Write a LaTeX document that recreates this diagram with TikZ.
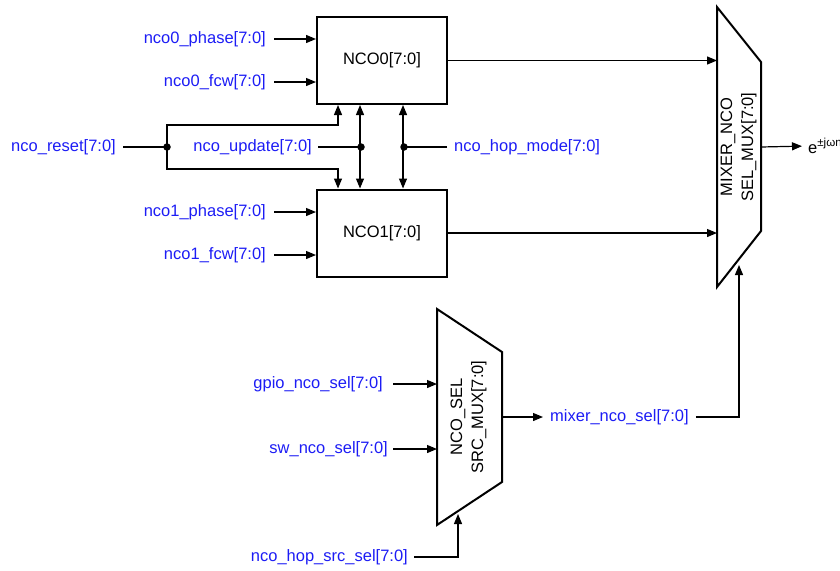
\documentclass[tikz,border=0pt]{standalone}
\usepackage{fontspec}
\setmainfont{Liberation Sans}
\usetikzlibrary{arrows.meta}
\definecolor{sig}{RGB}{28,28,245}
\begin{document}
\begin{tikzpicture}[x=1pt,y=-1pt,
  lbl/.style={text=sig,font=\fontsize{16.5}{19}\selectfont,inner sep=0pt},
  blk/.style={draw,line width=2pt,minimum width=130pt,minimum height=87pt,font=\fontsize{16.5}{19}\selectfont},
  muxtxt/.style={rotate=90,align=center,inner sep=0pt,font=\fontsize{16.5}{21}\selectfont},
  muxshape/.style={line width=2pt,line join=miter},
  wire/.style={line width=1.2pt},
  arr/.style={wire,-{Triangle[length=10pt,width=8pt]}},
  darr/.style={wire,{Triangle[length=10pt,width=8pt]}-{Triangle[length=10pt,width=8pt]}},
  jdot/.style={circle,fill,inner sep=0pt,minimum size=7.5pt}]
\useasboundingbox (0,0) rectangle (840,570);
\clip (0,0) rectangle (840,570);

% NCO blocks
\node[blk] (nco0) at (382,60.5) {NCO0[7:0]};
\node[blk] (nco1) at (382,233) {NCO1[7:0]};

% NCO inputs
\node[lbl,anchor=east] (p0) at (266,39) {nco0\_phase[7:0]};
\node[lbl,anchor=east] (f0) at (266,82) {nco0\_fcw[7:0]};
\node[lbl,anchor=east] (p1) at (266,212) {nco1\_phase[7:0]};
\node[lbl,anchor=east] (f1) at (266,255) {nco1\_fcw[7:0]};
\draw[arr,shorten <=8pt] (p0.east) -- (p0.east -| nco0.west);
\draw[arr,shorten <=8pt] (f0.east) -- (f0.east -| nco0.west);
\draw[arr,shorten <=8pt] (p1.east) -- (p1.east -| nco1.west);
\draw[arr,shorten <=8pt] (f1.east) -- (f1.east -| nco1.west);

% reset
\node[lbl,anchor=east] (rst) at (116,147) {nco\_reset[7:0]};
\node[jdot] (d1) at (167,147) {};
\draw[wire,shorten <=7pt] (rst.east) -- (d1.center);
\coordinate (r0) at ([xshift=22pt]nco0.south west);
\coordinate (r1) at ([xshift=22pt]nco1.north west);
\draw[arr] (d1.center) -- (167,125) -| (r0);
\draw[arr] (d1.center) -- (167,169) -| (r1);

% update
\node[lbl,anchor=east] (upd) at (312,147) {nco\_update[7:0]};
\node[jdot] (d2) at (361,147) {};
\draw[wire,shorten <=6pt] (upd.east) -- (d2.center);
\draw[darr] ([xshift=44pt]nco0.south west) -- ([xshift=44pt]nco1.north west);

% hop mode
\node[lbl,anchor=west] (hop) at (454,147) {nco\_hop\_mode[7:0]};
\node[jdot] (d3) at (404,147) {};
\draw[wire,shorten <=7pt] (hop.west) -- (d3.center);
\draw[darr] ([xshift=87pt]nco0.south west) -- ([xshift=87pt]nco1.north west);

% mixer mux
\coordinate (ma) at (717,7);
\coordinate (mb) at (761,62);
\coordinate (mc) at (761,231);
\coordinate (md) at (717,287);
\draw[muxshape] (ma) -- (mb) -- (mc) -- (md) -- cycle;
\node[muxtxt] (mixtxt) at (738.5,147) {MIXER\_NCO\\SEL\_MUX[7:0]};
\draw[arr] (nco0.east) -- (nco0.east -| ma);
\draw[arr] (nco1.east) -- (nco1.east -| ma);
\coordinate (mout) at (761,147);
\node[anchor=west,inner sep=0pt,font=\fontsize{16.5}{19}\selectfont] (ejw) at (808,146) {e\textsuperscript{±jωn}};
\draw[arr,shorten >=6pt] (mout) -- (ejw.west);

% source select mux
\coordinate (sa) at (437,309);
\coordinate (sb) at (502,352);
\coordinate (sc) at (502,482);
\coordinate (sd) at (437,525);
\draw[muxshape] (sa) -- (sb) -- (sc) -- (sd) -- cycle;
\node[muxtxt] (srctxt) at (468.5,417) {NCO\_SEL\\SRC\_MUX[7:0]};

\node[lbl,anchor=east] (gpio) at (383,384) {gpio\_nco\_sel[7:0]};
\node[lbl,anchor=east] (sw) at (388,449) {sw\_nco\_sel[7:0]};
\draw[arr] ([xshift=10pt]gpio.east) -- (gpio.east -| sa);
\draw[arr,shorten <=5pt] (sw.east) -- (sw.east -| sa);

\coordinate (sout) at (502,417);
\node[lbl,anchor=west] (mns) at (550,417) {mixer\_nco\_sel[7:0]};
\draw[arr,shorten >=7pt] (sout) -- (mns.west);
\coordinate (msel) at (739,265);
\draw[arr,shorten <=7pt] (mns.east) -| (msel);

\node[lbl,anchor=east] (hss) at (408,557) {nco\_hop\_src\_sel[7:0]};
\coordinate (ssel) at (458,514);
\draw[arr,shorten <=6pt] (hss.east) -| (ssel);
\end{tikzpicture}
\end{document}
